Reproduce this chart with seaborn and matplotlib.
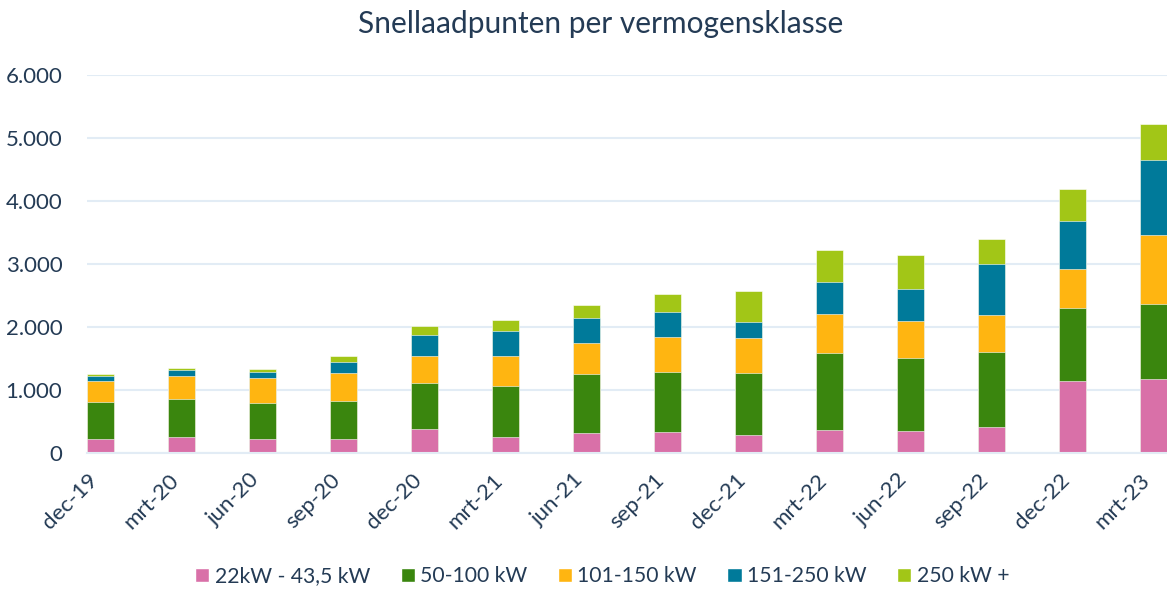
import numpy as np
import pandas as pd
import matplotlib
matplotlib.use("Agg")
import matplotlib.pyplot as plt
import seaborn as sns
from matplotlib.patches import Patch
from matplotlib.ticker import FuncFormatter

# data
periods = ["dec-19", "mrt-20", "jun-20", "sep-20", "dec-20", "mrt-21", "jun-21",
           "sep-21", "dec-21", "mrt-22", "jun-22", "sep-22", "dec-22", "mrt-23"]
classes = ["22kW - 43,5 kW", "50-100 kW", "101-150 kW", "151-250 kW", "250 kW +"]
kw_22_43 = [222, 254, 222, 222, 376, 259, 312, 333, 286, 360, 349, 408, 1138, 1179]
kw_50_100 = [592, 603, 567, 598, 740, 799, 947, 958, 979, 1233, 1164, 1201, 1169, 1181]
kw_101_150 = [333, 365, 402, 444, 429, 481, 492, 550, 561, 619, 582, 577, 619, 1095]
kw_151_250 = [79, 100, 100, 185, 323, 402, 397, 392, 259, 508, 513, 810, 752, 1189]
kw_250_plus = [27, 27, 38, 85, 153, 164, 206, 286, 487, 508, 534, 402, 508, 585]

colors = ["#D970A8", "#3A860E", "#FFB511", "#007A9A", "#A2C617"]
text_color = "#243B55"
grid_color = "#E2ECF5"

df = pd.DataFrame({"period": periods, classes[0]: kw_22_43, classes[1]: kw_50_100,
                   classes[2]: kw_101_150, classes[3]: kw_151_250, classes[4]: kw_250_plus})
cum = df[classes].cumsum(axis=1)
cum["period"] = df["period"]

sns.set_style("white")
plt.rcParams["font.family"] = ["Lato", "DejaVu Sans"]

fig = plt.figure(figsize=(11.67, 5.9), dpi=100)
ax = fig.add_axes([0.0748, 0.2322, 0.9252, 0.6407])

bw = 1 / 3
# draw the cumulative totals from the top down so each layer shows
for cls, col in zip(classes[::-1], colors[::-1]):
    sns.barplot(data=cum, x="period", y=cls, color=col, width=bw, ax=ax,
                saturation=1, edgecolor="white", linewidth=0.4)

ax.set_ylim(0, 6000)
ax.set_xlim(-bw / 2, len(periods) - 1 + bw / 2)
ax.set_yticks(range(0, 6001, 1000))
ax.yaxis.set_major_formatter(FuncFormatter(lambda v, p: f"{int(v):,}".replace(",", ".")))
ax.set_xticks(np.arange(len(periods)) - bw / 2)
ax.set_xticklabels(periods, rotation=45, ha="right", rotation_mode="anchor")
ax.set_axisbelow(True)
ax.grid(axis="y", color=grid_color, linewidth=1.5)
ax.set_xlabel("")
ax.set_ylabel("")
for s in ["left", "right", "top"]:
    ax.spines[s].set_visible(False)
ax.spines["bottom"].set_color(grid_color)
ax.spines["bottom"].set_linewidth(1.5)
ax.tick_params(axis="x", colors=grid_color, length=8, width=1.5, labelcolor=text_color,
               labelsize=16, pad=4)
ax.tick_params(axis="y", length=0, labelcolor=text_color, labelsize=16, pad=18)

fig.text(0.515, 0.96, "Snellaadpunten per vermogensklasse", ha="center", va="center",
         fontsize=21.5, color=text_color)

handles = [Patch(facecolor=c, label=l) for c, l in zip(colors, classes)]
fig.legend(handles=handles, loc="center", bbox_to_anchor=(0.516, 0.023), ncol=5,
           frameon=False, fontsize=15.2, labelcolor=text_color, handlelength=0.67,
           handleheight=0.67, handletextpad=0.25, columnspacing=1.45)

fig.savefig("out.png", dpi=100)
